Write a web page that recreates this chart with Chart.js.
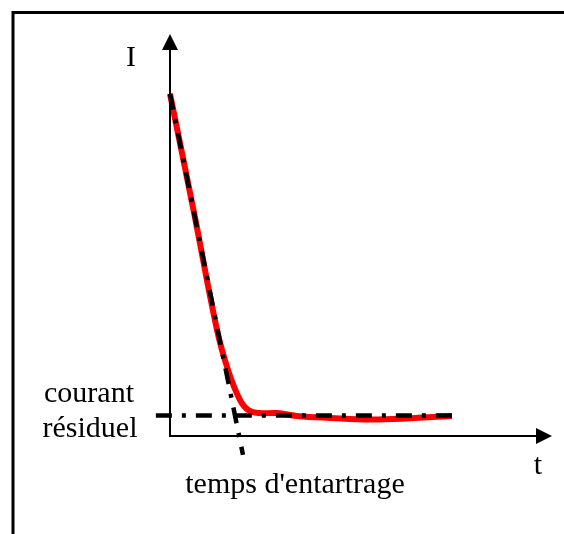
<!DOCTYPE html>
<html>
<head>
<meta charset="utf-8">
<script src="https://cdn.jsdelivr.net/npm/chart.js@4.4.1/dist/chart.umd.min.js"></script>
<style>
    body { margin: 0; background: #fff; }
    canvas { display: block; }
</style>
</head>
<body>
<canvas id="chart" width="564" height="534"></canvas>
<script>
// courbe du courant (unités arbitraires)
const tValues = [0, 0.63, 1.23, 1.52, 1.83, 2.06, 2.34, 2.80, 3.32, 4.19, 5.24, 6.28, 7.38];
const iValues = [8.51, 5.55, 2.64, 1.64, 0.90, 0.64, 0.57, 0.57, 0.50, 0.45, 0.41, 0.44, 0.50];

// tangente à l'origine
const tangentT = [0, 1.91];
const tangentI = [8.51, -0.47];

// courant résiduel
const residualT = [-0.37, 7.38];
const residualI = [0.51, 0.51];

const axisMax = { t: 10, i: 10 };

const labelFont = '30px "Liberation Serif", "Times New Roman", serif';
const dashDot = [16, 10, 4, 10];

function toPoints(xs, ys) {
    return xs.map((x, k) => ({ x: x, y: ys[k] }));
}

// cadre, axes avec flèches et textes
const drawing = {
    id: "drawing",
    beforeDraw(chart) {
        const ctx = chart.ctx;
        ctx.save();
        ctx.fillStyle = "#fff";
        ctx.fillRect(0, 0, chart.width, chart.height);
        ctx.strokeStyle = "#000";
        ctx.lineWidth = 3;
        ctx.beginPath();
        ctx.moveTo(13, chart.height + 5);
        ctx.lineTo(13, 12.5);
        ctx.lineTo(chart.width + 5, 12.5);
        ctx.stroke();
        ctx.restore();
    },
    afterDraw(chart) {
        const ctx = chart.ctx;
        const xs = chart.scales.x;
        const ys = chart.scales.y;
        const x0 = xs.getPixelForValue(0);
        const y0 = ys.getPixelForValue(0);
        const xEnd = xs.getPixelForValue(axisMax.t);
        const yEnd = ys.getPixelForValue(axisMax.i);
        ctx.save();
        ctx.strokeStyle = "#000";
        ctx.fillStyle = "#000";
        ctx.lineWidth = 2;
        ctx.beginPath();
        ctx.moveTo(x0, yEnd + 10);
        ctx.lineTo(x0, y0);
        ctx.lineTo(xEnd - 10, y0);
        ctx.stroke();
        // flèches
        ctx.beginPath();
        ctx.moveTo(x0, yEnd);
        ctx.lineTo(x0 - 8, yEnd + 16);
        ctx.lineTo(x0 + 8, yEnd + 16);
        ctx.closePath();
        ctx.fill();
        ctx.beginPath();
        ctx.moveTo(xEnd, y0);
        ctx.lineTo(xEnd - 16, y0 - 8);
        ctx.lineTo(xEnd - 16, y0 + 8);
        ctx.closePath();
        ctx.fill();

        ctx.font = labelFont;
        ctx.textAlign = "center";
        ctx.textBaseline = "alphabetic";
        ctx.fillText("I", x0 - 39, yEnd + 32);
        ctx.fillText("t", xEnd - 14, y0 + 38);
        ctx.fillText("courant", 89, y0 - 34);
        ctx.fillText("résiduel", 90, y0 + 1);
        ctx.fillText("temps d'entartrage", 295, y0 + 57);
        ctx.restore();
    }
};

const ctx = document.getElementById("chart").getContext("2d");
const chart = new Chart(ctx, {
    type: "scatter",
    data: {
        datasets: [
            {
                data: toPoints(residualT, residualI),
                showLine: true,
                borderColor: "#000",
                borderWidth: 4.5,
                borderDash: dashDot,
                borderCapStyle: "butt",
                pointRadius: 0,
                clip: false,
                order: 1
            },
            {
                data: toPoints(tangentT, tangentI),
                showLine: true,
                borderColor: "#000",
                borderWidth: 4.5,
                borderDash: dashDot,
                borderCapStyle: "butt",
                pointRadius: 0,
                clip: false,
                order: 1
            },
            {
                data: toPoints(tValues, iValues),
                showLine: true,
                borderColor: "#ff0000",
                borderWidth: 6,
                tension: 0.4,
                pointRadius: 0,
                clip: false,
                order: 2
            }
        ]
    },
    options: {
        responsive: false,
        animation: false,
        layout: { padding: { left: 170, top: 34, right: 12, bottom: 98 } },
        plugins: {
            legend: { display: false },
            tooltip: { enabled: false }
        },
        scales: {
            x: { type: "linear", min: 0, max: axisMax.t, display: false },
            y: { type: "linear", min: 0, max: axisMax.i, display: false }
        }
    },
    plugins: [drawing]
});
</script>
</body>
</html>
